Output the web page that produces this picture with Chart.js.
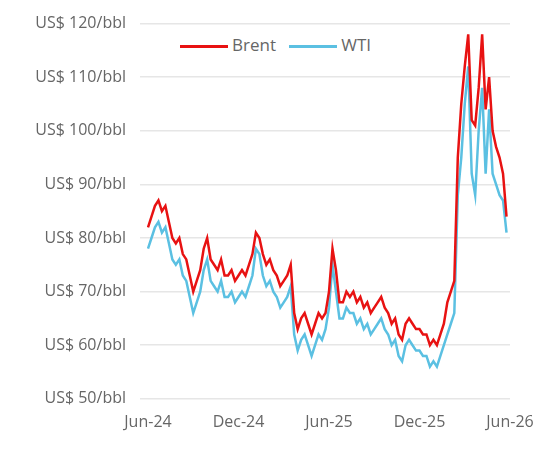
<!DOCTYPE html>
<html>
<head>
<meta charset="utf-8">
<script src="https://cdn.jsdelivr.net/npm/chart.js@4"></script>
<style>
  html, body { margin: 0; padding: 0; background: #fff; }
  #wrap { width: 549px; height: 466px; position: relative; }
  #leyenda { position: absolute; left: 176px; top: 33px; font: 17px 'Open Sans', sans-serif; color: #666; background: #fff; padding: 0 4px; }
  #leyenda span.linea { display: inline-block; width: 48px; height: 3px; vertical-align: middle; margin-right: 4px; }
</style>
</head>
<body>
<div id="wrap"><canvas id="grafico"></canvas>
  <div id="leyenda"><span class="linea" style="background:#e81212"></span>Brent&nbsp;&nbsp;&nbsp;<span class="linea" style="background:#5bc0e2"></span>WTI</div>
</div>
<script>
// weekly values, Jun-24 .. late May-26
var brent = [
  82, 84, 86, 87, 85, 86, 83, 80, 79, 80,
  77, 76, 73, 70, 72, 74, 78, 80, 76, 75,
  74, 76, 73, 73, 74, 72, 73, 74, 73, 75,
  77, 81, 80, 77, 75, 76, 74, 73, 71, 72,
  73, 75, 66, 63, 65, 66, 64, 62, 64, 66,
  65, 66, 70, 78, 74, 68, 68, 70, 69, 70,
  68, 69, 67, 68, 66, 67, 68, 69, 67, 66,
  64, 65, 62, 61, 64, 65, 64, 63, 63, 62,
  62, 60, 61, 60, 62, 64, 68, 70, 72, 95,
  105, 112, 118, 102, 101, 108, 118, 104, 110, 100,
  97, 95, 92, 84
];
var wti = [
  78, 80, 82, 83, 81, 82, 79, 76, 75, 76,
  73, 72, 69, 66, 68, 70, 74, 76, 72, 71,
  70, 72, 69, 69, 70, 68, 69, 70, 69, 71,
  73, 78, 77, 73, 71, 72, 70, 69, 67, 68,
  69, 71, 62, 59, 61, 62, 60, 58, 60, 62,
  61, 63, 67, 75, 70, 65, 65, 67, 66, 66,
  64, 65, 63, 64, 62, 63, 64, 65, 63, 62,
  60, 61, 58, 57, 60, 61, 60, 59, 59, 58,
  58, 56, 57, 56, 58, 60, 62, 64, 66, 88,
  95, 105, 112, 92, 88, 100, 108, 92, 104, 92,
  90, 88, 87, 81
];
var etiquetasEje = { 0: 'Jun-24', 26: 'Dec-24', 52: 'Jun-25', 78: 'Dec-25', 104: 'Jun-26' };
var semanas = [];
for (var i = 0; i <= 104; i++) { semanas.push(etiquetasEje[i] || ''); }

new Chart(document.getElementById('grafico'), {
  type: 'line',
  data: {
    labels: semanas,
    datasets: [
      { label: 'Brent', data: brent, borderColor: '#e81212', borderWidth: 2.5, pointRadius: 0, tension: 0 },
      { label: 'WTI', data: wti, borderColor: '#5bc0e2', borderWidth: 2.5, pointRadius: 0, tension: 0 }
    ]
  },
  options: {
    responsive: true,
    maintainAspectRatio: false,
    animation: false,
    layout: { padding: { left: 4, right: 39, top: 20, bottom: 28 } },
    plugins: { legend: { display: false }, tooltip: { enabled: false } },
    scales: {
      x: {
        grid: { display: false },
        border: { display: false },
        ticks: {
          autoSkip: false, maxRotation: 0, color: '#666', padding: 6,
          font: { family: 'Open Sans', size: 16 },
          callback: function (v, idx) { return semanas[idx]; }
        }
      },
      y: {
        min: 50, max: 120,
        grid: { color: '#e6e6e6', lineWidth: 1.5 },
        border: { display: false },
        afterFit: function (escala) { escala.width = 144; },
        ticks: {
          stepSize: 10, color: '#666', padding: 14,
          font: { family: 'Open Sans', size: 16 },
          callback: function (v) { return 'US$ ' + v + '/bbl'; }
        }
      }
    }
  }
});
</script>
</body>
</html>
